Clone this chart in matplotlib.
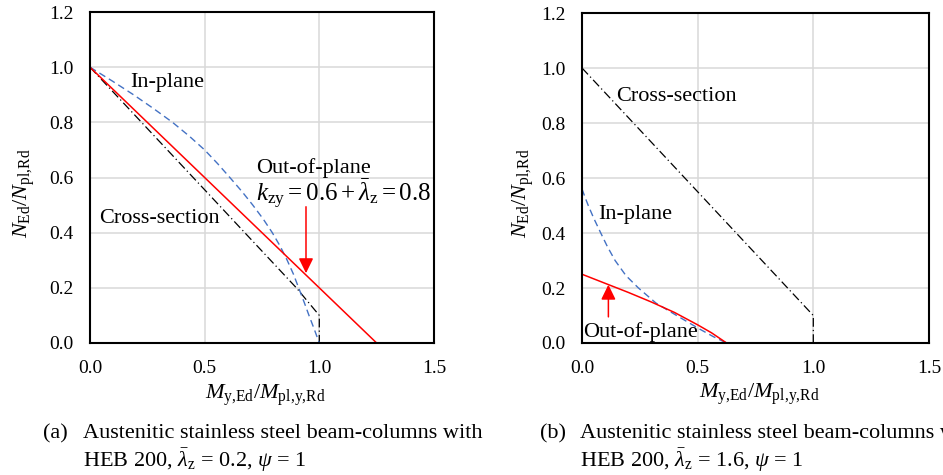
import matplotlib.pyplot as plt

plt.rcParams['font.family'] = ['Liberation Serif', 'DejaVu Serif']
plt.rcParams['mathtext.fontset'] = 'custom'
plt.rcParams['mathtext.rm'] = 'Liberation Serif'
plt.rcParams['mathtext.it'] = 'Liberation Serif:italic'
plt.rcParams['mathtext.bf'] = 'Liberation Serif:bold'

# (a) lambda_z = 0.2
a_cs_m = [0.0, 0.45, 0.90, 1.0, 1.0]
a_cs_n = [1.0, 0.60, 0.20, 0.1, 0.0]
a_in_m = [0.0, 0.097, 0.19, 0.277, 0.36, 0.433, 0.50, 0.557, 0.61, 0.662, 0.71,
          0.755, 0.795, 0.83, 0.86, 0.887, 0.91, 0.933, 0.955, 0.978, 1.0]
a_in_n = [1.0, 0.95, 0.90, 0.85, 0.80, 0.75, 0.70, 0.65, 0.60, 0.55, 0.50,
          0.45, 0.40, 0.35, 0.30, 0.25, 0.20, 0.15, 0.10, 0.05, 0.0]
a_out_m = [0.0, 1.25]
a_out_n = [1.0, 0.0]

# (b) lambda_z = 1.6
b_cs_m = [0.0, 1.0, 1.0]
b_cs_n = [1.0, 0.1, 0.0]
b_in_m = [0.0, 0.013, 0.027, 0.05, 0.081, 0.11, 0.143, 0.19, 0.244, 0.32,
          0.409, 0.51, 0.568, 0.625]
b_in_n = [0.56, 0.53, 0.50, 0.455, 0.40, 0.35, 0.30, 0.245, 0.20, 0.145,
          0.10, 0.05, 0.023, 0.0]
b_out_m = [0.0, 0.1, 0.2, 0.3, 0.4, 0.5, 0.56, 0.625]
b_out_n = [0.25, 0.217, 0.184, 0.149, 0.111, 0.066, 0.037, 0.0]

x_ticks = [0.0, 0.5, 1.0, 1.5]
y_ticks = [0.0, 0.2, 0.4, 0.6, 0.8, 1.0, 1.2]

RED = '#ff0000'
BLUE = '#4472c4'

fig = plt.figure(figsize=(9.43, 4.75), dpi=100)
ax_a = fig.add_axes([0.0954, 0.2779, 0.3648, 0.6968])
ax_b = fig.add_axes([0.6172, 0.2779, 0.3679, 0.6947])


def style_axes(ax, ylab_x):
    ax.set_xlim(0, 1.5)
    ax.set_ylim(0, 1.2)
    ax.set_xticks(x_ticks)
    ax.set_yticks(y_ticks)
    ax.set_xticklabels(['%.1f' % v for v in x_ticks])
    ax.set_yticklabels(['%.1f' % v for v in y_ticks])
    ax.tick_params(length=0, pad=12, labelsize=14)
    ax.grid(True, color='#d9d9d9', linewidth=1.1)
    ax.set_axisbelow(True)
    for s in ax.spines.values():
        s.set_linewidth(1.5)
    ax.set_xlabel(r'$M_{\mathrm{y{,}Ed}}/M_{\mathrm{pl{,}y{,}Rd}}$', fontsize=16)
    ax.set_ylabel(r'$N_{\mathrm{Ed}}/N_{\mathrm{pl{,}Rd}}$', fontsize=16)
    ax.xaxis.set_label_coords(0.51, -0.118)
    ax.yaxis.set_label_coords(ylab_x, 0.453)


def draw_curves(ax, cs, inp, outp):
    ax.plot(*cs, color='black', linewidth=0.9, linestyle=(0, (7, 2.5, 1, 2.5)),
            clip_on=False)
    ax.plot(*inp, color=BLUE, linewidth=1.0, linestyle=(0, (5, 3)))
    ax.plot(*outp, color=RED, linewidth=1.1)


def arrow(ax, x, y0, y1):
    ax.annotate('', xy=(x, y1), xytext=(x, y0),
                arrowprops=dict(arrowstyle='-|>,head_length=0.45,head_width=0.22',
                                color=RED, lw=1.1, mutation_scale=20,
                                shrinkA=0, shrinkB=0))


style_axes(ax_a, -0.154)
style_axes(ax_b, -0.133)

draw_curves(ax_a, (a_cs_m, a_cs_n), (a_in_m, a_in_n), (a_out_m, a_out_n))
draw_curves(ax_b, (b_cs_m, b_cs_n), (b_in_m, b_in_n), (b_out_m, b_out_n))

arrow(ax_a, 0.942, 0.494, 0.253)
arrow(ax_b, 0.114, 0.095, 0.212)

ax_a.text(0.174, 0.927, 'In-plane', fontsize=16, va='baseline')
ax_a.text(0.724, 0.615, 'Out-of-plane', fontsize=16, va='baseline')
ax_a.text(0.724, 0.512, r'$k_{\mathrm{zy}}=0.6+\bar{\lambda}_{\mathrm{z}}=0.8$',
          fontsize=18, va='baseline')
ax_a.text(0.04, 0.436, 'Cross-section', fontsize=16, va='baseline')

ax_b.text(0.146, 0.881, 'Cross-section', fontsize=16, va='baseline')
ax_b.text(0.068, 0.452, 'In-plane', fontsize=16, va='baseline')
ax_b.text(0.006, 0.023, 'Out-of-plane', fontsize=16, va='baseline')

# captions below each panel
cap1 = 'Austenitic stainless steel beam-columns with'
fig.text(0.0456, 0.0779, '(a)', fontsize=16, va='baseline')
fig.text(0.088, 0.0779, cap1, fontsize=16, va='baseline')
fig.text(0.088, 0.0168, r'HEB 200, $\bar{\lambda}_{\mathrm{z}}$ = 0.2, $\psi$ = 1',
         fontsize=16, va='baseline')
fig.text(0.5726, 0.0779, '(b)', fontsize=16, va='baseline')
fig.text(0.615, 0.0779, cap1, fontsize=16, va='baseline')
fig.text(0.615, 0.0168, r'HEB 200, $\bar{\lambda}_{\mathrm{z}}$ = 1.6, $\psi$ = 1',
         fontsize=16, va='baseline')

fig.savefig('out.png', dpi=100)
